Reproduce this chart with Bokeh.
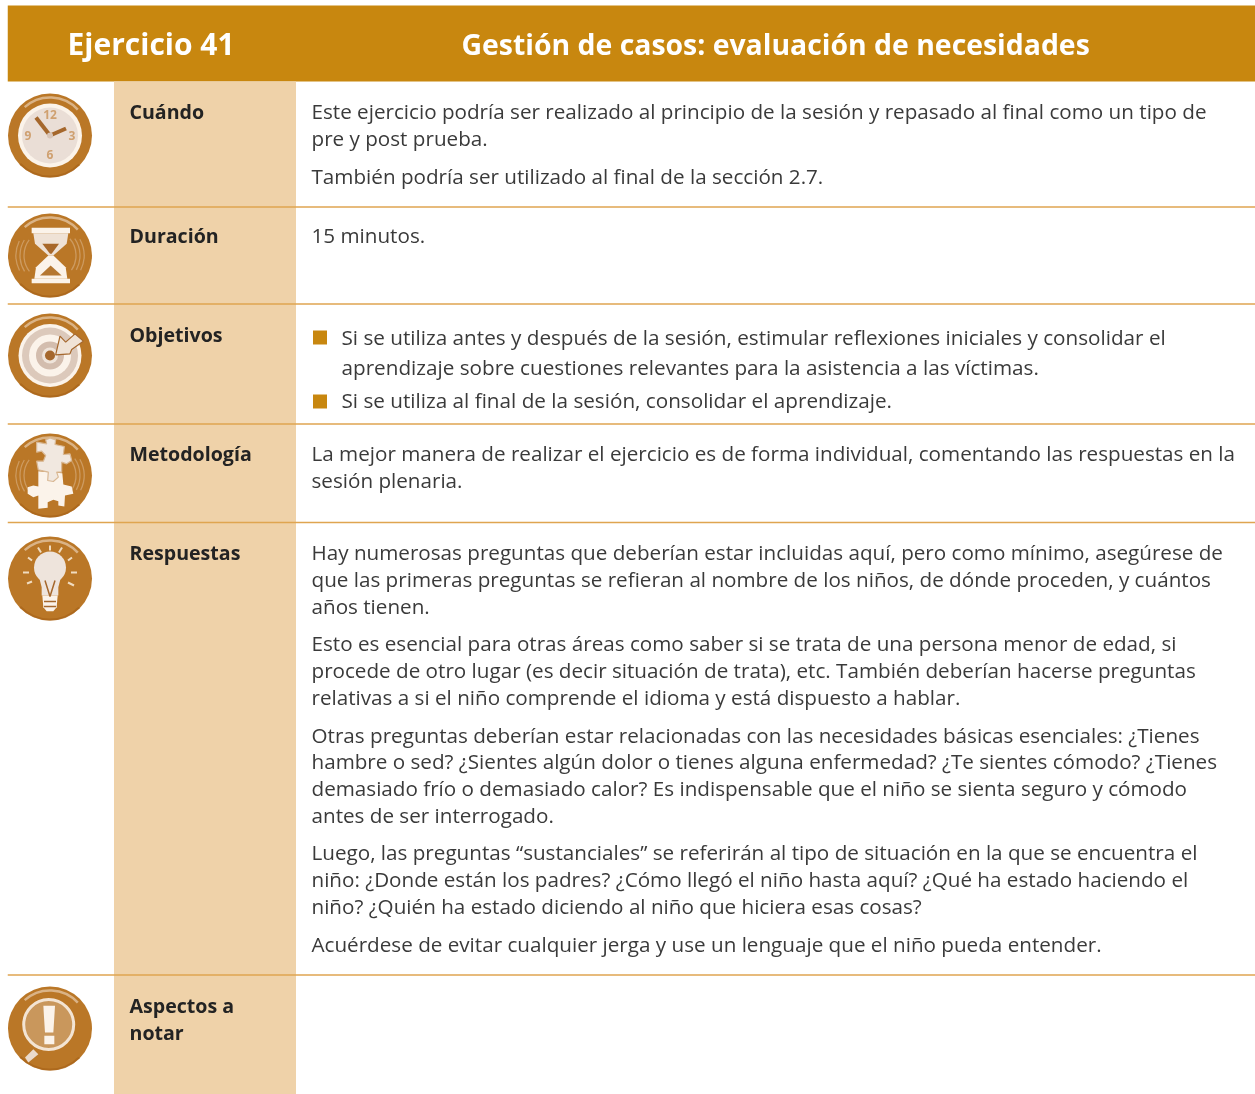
from bokeh.plotting import figure
from bokeh.models import Range1d
from bokeh.core.properties import value
from bokeh.embed import file_html
from bokeh.resources import INLINE

header_left = "Ejercicio 41"
header_right = "Gestión de casos: evaluación de necesidades"

row_labels = ["Cuándo", "Duración", "Objetivos", "Metodología", "Respuestas", "Aspectos a", "notar"]
label_rows = [112, 236, 335, 454, 553, 1006, 1033]

body_lines = [
    "Este ejercicio podría ser realizado al principio de la sesión y repasado al final como un tipo de",
    "pre y post prueba.",
    "También podría ser utilizado al final de la sección 2.7.",
    "15 minutos.",
    "La mejor manera de realizar el ejercicio es de forma individual, comentando las respuestas en la",
    "sesión plenaria.",
    "Hay numerosas preguntas que deberían estar incluidas aquí, pero como mínimo, asegúrese de",
    "que las primeras preguntas se refieran al nombre de los niños, de dónde proceden, y cuántos",
    "años tienen.",
    "Esto es esencial para otras áreas como saber si se trata de una persona menor de edad, si",
    "procede de otro lugar (es decir situación de trata), etc. También deberían hacerse preguntas",
    "relativas a si el niño comprende el idioma y está dispuesto a hablar.",
    "Otras preguntas deberían estar relacionadas con las necesidades básicas esenciales: ¿Tienes",
    "hambre o sed? ¿Sientes algún dolor o tienes alguna enfermedad? ¿Te sientes cómodo? ¿Tienes",
    "demasiado frío o demasiado calor? Es indispensable que el niño se sienta seguro y cómodo",
    "antes de ser interrogado.",
    "Luego, las preguntas “sustanciales” se referirán al tipo de situación en la que se encuentra el",
    "niño: ¿Donde están los padres? ¿Cómo llegó el niño hasta aquí? ¿Qué ha estado haciendo el",
    "niño?  ¿Quién ha estado diciendo al niño que hiciera esas cosas?",
    "Acuérdese de evitar cualquier jerga y use un lenguaje que el niño pueda entender.",
]
body_rows = [111.5, 138.5, 176.5, 235.5, 453.5, 480.5, 552, 579, 606, 643, 670, 697, 735, 761, 788, 815, 852, 879, 906, 944]

bullet_lines = [
    "Si se utiliza antes y después de la sesión, estimular reflexiones iniciales y consolidar el",
    "aprendizaje sobre cuestiones relevantes para la asistencia a las víctimas.",
    "Si se utiliza al final de la sesión, consolidar el aprendizaje.",
]
bullet_rows = [337, 367, 400]
bullet_marks = [338, 402]

rules = [207.5, 304.5, 424.5, 523, 975.5]
icon_centers = [135, 255, 355, 475, 578, 1028]

GOLD = "#C8870F"
TAN = "#EFD2A9"
RULE = "#DFA550"
ICON = "#BA7727"
DARK = "#A5672C"
LIGHT = "#F3E6DA"
WHITE = "#FBF3EA"
FONT = value("Open Sans")

p = figure(width=1248, height=1090, output_backend="svg", toolbar_location=None,
           x_range=Range1d(8, 1256), y_range=Range1d(1095, 5), min_border=0,
           outline_line_color=None, background_fill_color="white")
p.styles = {"position": "fixed", "left": "7px", "top": "4px"}
p.axis.visible = False
p.grid.visible = False

p.quad(left=[8], right=[1256], top=[6], bottom=[82], fill_color=GOLD, line_color=None)
p.quad(left=[114.5], right=[296.5], top=[82], bottom=[1095], fill_color=TAN, line_color=None)
p.segment(x0=[8] * len(rules), x1=[1256] * len(rules), y0=rules, y1=rules, line_color=RULE, line_width=1.4)

p.text(x=[68], y=[44], text=[header_left], text_color="white", text_font=FONT, text_font_style="bold",
       text_font_size="30px", text_baseline="alphabetic")
p.text(x=[462], y=[44.5], text=[header_right], text_color="white", text_font=FONT, text_font_style="bold",
       text_font_size="28.4px", text_baseline="alphabetic")
p.text(x=[130] * len(row_labels), y=label_rows, text=row_labels, text_color="#232323", text_font=FONT,
       text_font_style="bold", text_font_size="19.6px", text_baseline="alphabetic")
p.text(x=[312] * len(body_lines), y=body_rows, text=body_lines, text_color="#3A3A3A", text_font=FONT,
       text_font_size="20.65px", text_baseline="alphabetic")
p.text(x=[342] * len(bullet_lines), y=bullet_rows, text=bullet_lines, text_color="#3A3A3A", text_font=FONT,
       text_font_size="20.7px", text_baseline="alphabetic")
p.quad(left=[313.5] * 2, right=[327.5] * 2, top=[y - 7 for y in bullet_marks], bottom=[y + 7 for y in bullet_marks],
       fill_color=GOLD, line_color=None)


def disc(cy):
    p.circle(x=[50.5], y=[cy + 1], radius=42, fill_color=ICON, line_color=None)
    p.arc(x=[50.5], y=[cy + 1], radius=38, start_angle=0.75, end_angle=2.3, line_color="#E8CDAF", line_width=2.5, line_alpha=0.7)
    p.arc(x=[50.5], y=[cy + 1], radius=41, start_angle=3.9, end_angle=5.5, line_color="#A86419", line_width=2, line_alpha=0.7)


def shape(points, left, top, color=LIGHT, outline=None):
    """Outline traced on a 3x crop of the icon, whose corner is (left, top)."""
    xs = [left + 0.5 + a / 3 for a, _ in points]
    ys = [top + 1 + b / 3 for _, b in points]
    p.patch(xs, ys, fill_color=color, line_color=outline, line_width=1.2)


def swirls(cy):
    for r, a, b in [(30, 2.6, 3.7), (34, 2.7, 3.6), (26, 2.5, 3.8), (30, -0.5, 0.6), (34, -0.45, 0.5), (26, -0.6, 0.7)]:
        p.arc(x=[50.5], y=[cy + 1], radius=r, start_angle=a, end_angle=b, line_color="#E0BE98", line_width=1.3, line_alpha=0.5)


# clock
cy = icon_centers[0]
disc(cy)
p.circle(x=[50.5], y=[cy + 1], radius=32, fill_color=WHITE, line_color=None)
p.circle(x=[50.5], y=[cy + 1], radius=28, fill_color="#EADED6", line_color=None)
p.segment(x0=[50.5, 50.5], y0=[cy + 1, cy + 1], x1=[36.5, 66.5], y1=[cy - 17, cy - 6], line_color=DARK, line_width=4)
p.circle(x=[50.5], y=[cy + 1], radius=3, fill_color="#D8C5B8", line_color=None)
p.text(x=[50.5, 72.5, 50.5, 28.5], y=[cy - 20, cy + 1, cy + 20, cy + 1], text=["12", "3", "6", "9"], text_font=FONT,
       text_font_size="12px", text_font_style="bold", text_color="#CFA070", text_align="center", text_baseline="middle")

# hourglass
cy = icon_centers[1]
disc(cy)
swirls(cy)
shape([(85, 68), (190, 68), (185, 100), (145, 135), (130, 135), (90, 100)], 5, 210, "#EFE2D6")
shape([(112, 100), (162, 100), (140, 130), (135, 130)], 5, 210, "#A8682A")
shape([(130, 135), (145, 135), (182, 170), (187, 205), (88, 205), (93, 170)], 5, 210, WHITE)
shape([(137, 165), (170, 195), (105, 195)], 5, 210, "#B57731")
shape([(80, 52), (195, 52), (195, 68), (80, 68)], 5, 210, WHITE)
shape([(80, 205), (195, 205), (195, 218), (80, 218)], 5, 210, WHITE)

# target
cy = icon_centers[2]
disc(cy)
for r, c in [(31.5, WHITE), (28, "#DCC9BB"), (21, WHITE), (14, "#D3BDAE"), (8, "#EFE4DA"), (5, DARK)]:
    p.circle(x=[50.5], y=[cy + 1], radius=r, fill_color=c, line_color=None)
shape([(167, 163), (180, 107), (197, 125), (225, 100), (250, 122), (215, 147), (210, 160)], 0, 300, "#F0E3D6", DARK)

# puzzle
cy = icon_centers[3]
disc(cy)
swirls(cy)
shape([(100, 122), (172, 128), (175, 162), (200, 168), (205, 190), (180, 195), (178, 228), (160, 225),
       (160, 212), (145, 208), (128, 215), (128, 232), (100, 235), (100, 195), (85, 200), (68, 190),
       (68, 170), (85, 165), (100, 168)], 5, 430, WHITE)
shape([(95, 35), (125, 40), (122, 28), (135, 22), (152, 28), (150, 42), (178, 48), (175, 72), (195, 70),
       (200, 90), (185, 100), (170, 95), (170, 125), (155, 125), (160, 140), (145, 153), (128, 150),
       (130, 125), (100, 118), (95, 92), (115, 92), (122, 75), (110, 62), (95, 65)], 5, 430, "#F1E8E0", "#D9B894")

# bulb
cy = icon_centers[4]
disc(cy)
p.segment(x0=[50.5, 38.5, 62.5, 28.5, 72.5, 23.5, 71.5, 27.5, 68.5],
          y0=[546, 548, 548, 558, 558, 573, 573, 584, 583],
          x1=[50.5, 41.5, 59.5, 32.5, 68.5, 29.5, 77.5, 32.5, 74.5],
          y1=[551, 553, 553, 561, 561, 573, 573, 582, 586], line_color="#F0DCC0", line_width=2)
p.circle(x=[50.5], y=[568], radius=16, fill_color="#EEE4DC", line_color=None)
shape([(112, 810), (188, 810), (175, 860), (175, 885), (125, 885), (125, 860)], 0, 300, "#EEE4DC")
shape([(127, 885), (173, 885), (170, 920), (160, 932), (140, 932), (130, 920)], 0, 300, WHITE)
p.multi_line(xs=[[45.5, 50.5, 55.5], [44.5, 56.5], [44.5, 56.5]], ys=[[581, 597, 581], [602, 602], [607, 607]],
             line_color=DARK, line_width=1.5)

# alert
cy = icon_centers[5]
disc(cy)
p.circle(x=[49.2], y=[1025], radius=25, fill_color="#C9975C", line_color="#F3E4D3", line_width=3)
shape([(85, 200), (100, 215), (70, 240), (60, 225)], 5, 982, "#EADACB")
shape([(115, 70), (150, 70), (145, 150), (120, 150)], 5, 982, WHITE)
shape([(118, 160), (148, 160), (148, 185), (118, 185)], 5, 982, WHITE)

open("out.html", "w").write(file_html(p, INLINE))
